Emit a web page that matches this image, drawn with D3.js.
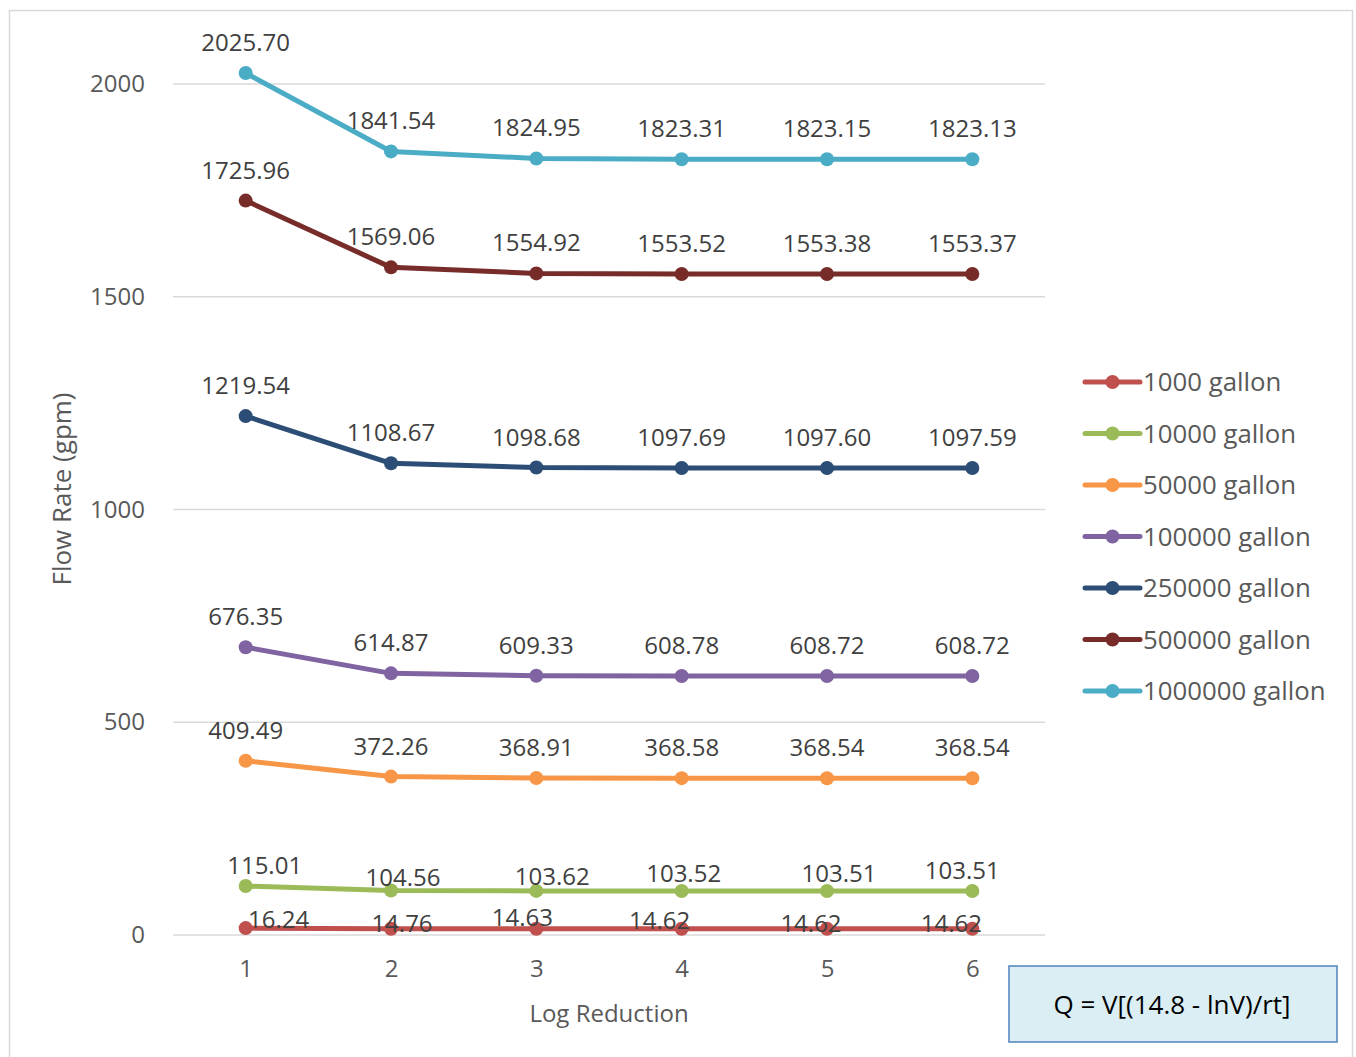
<!DOCTYPE html>
<html>
<head>
<meta charset="utf-8">
<script src="https://cdn.jsdelivr.net/npm/d3@7"></script>
<style>
  body { margin: 0; background: #fff; }
  text { font-family: "Open Sans", sans-serif; }
</style>
</head>
<body>
<div id="chart-area"></div>
<script>
// categories and series
var logReduction = [1, 2, 3, 4, 5, 6];
var seriesNames = ['1000 gallon', '10000 gallon', '50000 gallon', '100000 gallon', '250000 gallon', '500000 gallon', '1000000 gallon'];
var gal1000 = [16.24, 14.76, 14.63, 14.62, 14.62, 14.62];
var gal10000 = [115.01, 104.56, 103.62, 103.52, 103.51, 103.51];
var gal50000 = [409.49, 372.26, 368.91, 368.58, 368.54, 368.54];
var gal100000 = [676.35, 614.87, 609.33, 608.78, 608.72, 608.72];
var gal250000 = [1219.54, 1108.67, 1098.68, 1097.69, 1097.60, 1097.59];
var gal500000 = [1725.96, 1569.06, 1554.92, 1553.52, 1553.38, 1553.37];
var gal1000000 = [2025.70, 1841.54, 1824.95, 1823.31, 1823.15, 1823.13];
var yTicks = [0, 500, 1000, 1500, 2000];
var colors = ['#c0504d', '#9bbb59', '#f79646', '#8064a2', '#2c4d75', '#772c2a', '#4bacc6'];

var allSeries = [gal1000, gal10000, gal50000, gal100000, gal250000, gal500000, gal1000000];

// label nudges (Excel shoves overlapping labels around at the bottom)
var nudgeX = [
  [33, 11, -14, -22, -16, -21],
  [19, 12, 16, 2, 12, -10]
];
var nudgeY = [
  [22, 25, 19, 22, 25, 25],
  [10, 17, 16, 13, 13, 10]
];

var width = 1356, height = 1057;
var svg = d3.select('#chart-area').append('svg')
  .attr('width', width)
  .attr('height', height);

svg.append('rect')
  .attr('x', 0).attr('y', 0)
  .attr('width', width).attr('height', height)
  .attr('fill', '#fff');

// chart frame
svg.append('rect')
  .attr('x', 9.5).attr('y', 10.5)
  .attr('width', 1343).attr('height', 1060)
  .attr('fill', 'none')
  .attr('stroke', '#d9d9d9')
  .attr('stroke-width', 1.5);

// scales
var x = d3.scalePoint().domain(logReduction).range([173, 1045]).padding(0.5);
var y = d3.scaleLinear().domain([0, 2000]).range([935, 84]);

// gridlines
svg.append('g')
  .selectAll('line')
  .data(yTicks)
  .enter().append('line')
  .attr('x1', 173).attr('x2', 1045)
  .attr('y1', d => y(d)).attr('y2', d => y(d))
  .attr('stroke', '#d9d9d9')
  .attr('stroke-width', 1.5);

// axes
var yAxis = svg.append('g')
  .attr('transform', 'translate(173,0)')
  .call(d3.axisLeft(y).tickValues(yTicks).tickFormat(d3.format('d')).tickSize(0).tickPadding(28));
var xAxis = svg.append('g')
  .attr('transform', 'translate(0,935)')
  .call(d3.axisBottom(x).tickSize(0).tickPadding(25));
[xAxis, yAxis].forEach(a => {
  a.select('.domain').remove();
  a.selectAll('text')
    .attr('fill', '#595959')
    .style('font-size', '24px')
    .style('font-family', '"Open Sans", sans-serif');
});

// axis titles
svg.append('text')
  .attr('x', 609).attr('y', 1022)
  .attr('text-anchor', 'middle')
  .attr('fill', '#595959')
  .style('font-size', '24px')
  .text('Log Reduction');
svg.append('text')
  .attr('transform', 'translate(71,489) rotate(-90)')
  .attr('text-anchor', 'middle')
  .attr('fill', '#595959')
  .style('font-size', '26px')
  .text('Flow Rate (gpm)');

// lines and markers
var line = d3.line()
  .x((d, i) => x(logReduction[i]))
  .y(d => y(d));

allSeries.forEach((vals, s) => {
  svg.append('path')
    .attr('fill', 'none')
    .attr('stroke', colors[s])
    .attr('stroke-width', 5)
    .attr('stroke-linejoin', 'round')
    .attr('d', line(vals));
  svg.append('g')
    .selectAll('circle')
    .data(vals)
    .enter().append('circle')
    .attr('cx', (d, i) => x(logReduction[i]))
    .attr('cy', d => y(d))
    .attr('r', 7)
    .attr('fill', colors[s]);
});

// data labels
allSeries.forEach((vals, s) => {
  svg.append('g')
    .selectAll('text')
    .data(vals)
    .enter().append('text')
    .attr('x', (d, i) => x(logReduction[i]) + (s < 2 ? nudgeX[s][i] : 0))
    .attr('y', (d, i) => y(d) - 22 + (s < 2 ? nudgeY[s][i] : 0))
    .attr('text-anchor', 'middle')
    .attr('fill', '#404040')
    .style('font-size', '24px')
    .text(d => d.toFixed(2));
});

// legend
var legend = svg.append('g')
  .selectAll('g')
  .data(seriesNames)
  .enter().append('g')
  .attr('transform', (d, i) => 'translate(1085,' + (382 + i * 51.5) + ')');
legend.append('line')
  .attr('x1', 0).attr('x2', 55)
  .attr('stroke', (d, i) => colors[i])
  .attr('stroke-width', 5)
  .attr('stroke-linecap', 'round');
legend.append('circle')
  .attr('cx', 27.5).attr('r', 7)
  .attr('fill', (d, i) => colors[i]);
legend.append('text')
  .attr('x', 58).attr('y', 9)
  .attr('fill', '#595959')
  .style('font-size', '25.8px')
  .text(d => d);

// formula box
svg.append('rect')
  .attr('x', 1009).attr('y', 966)
  .attr('width', 328).attr('height', 76)
  .attr('fill', '#daeef3')
  .attr('stroke', '#4f81bd')
  .attr('stroke-width', 1.5);
svg.append('text')
  .attr('x', 1172).attr('y', 1014)
  .attr('text-anchor', 'middle')
  .attr('fill', '#000')
  .style('font-size', '26px')
  .text('Q = V[(14.8 - lnV)/rt]');
</script>
</body>
</html>
